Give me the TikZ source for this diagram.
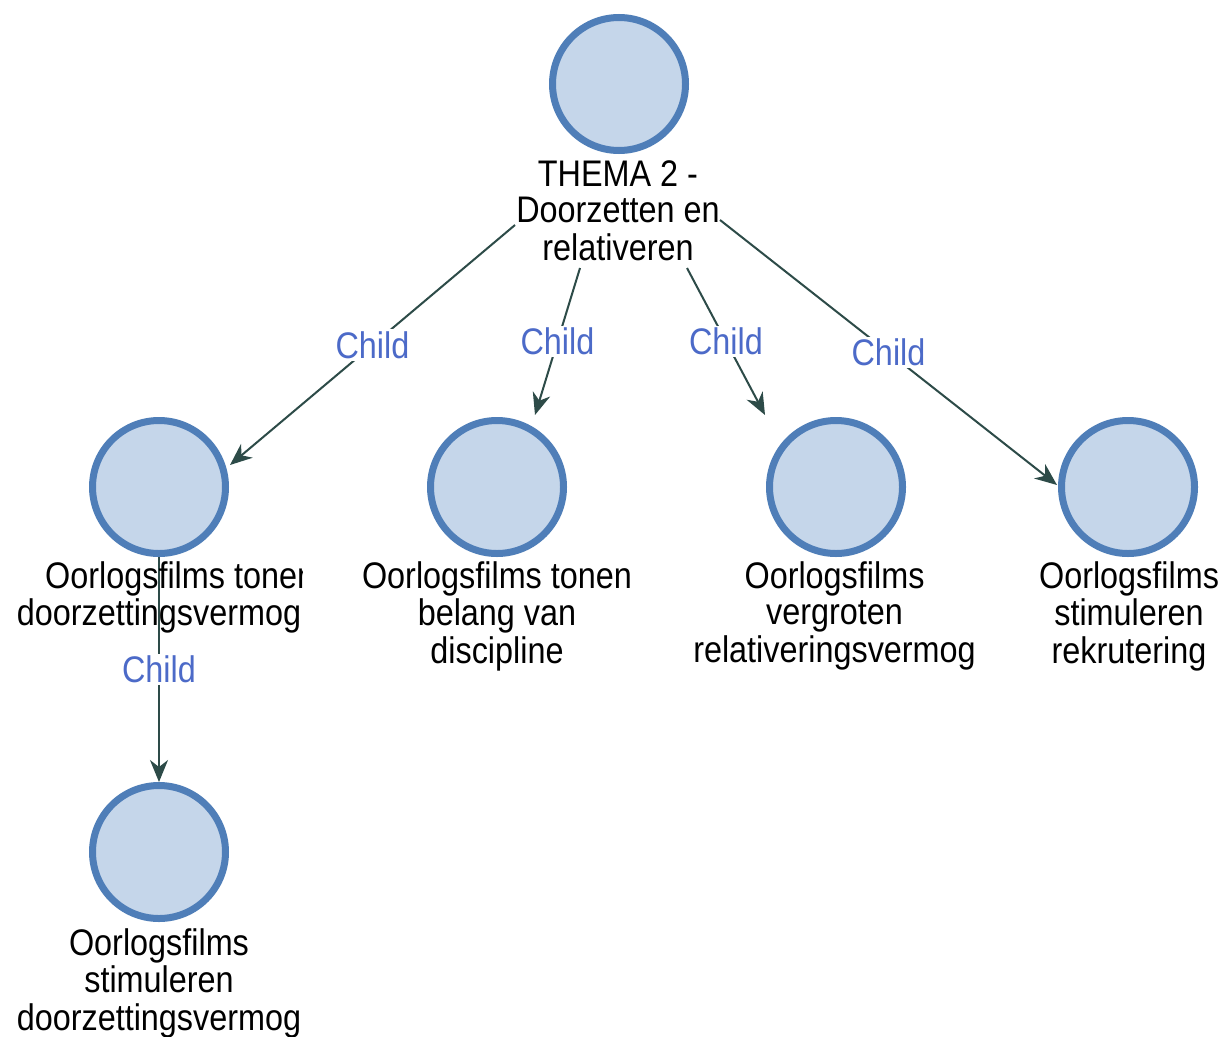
\documentclass[tikz,border=0pt]{standalone}
\usepackage{fontspec}
\newfontfamily\labfont[FakeStretch=0.875]{Liberation Sans}
\usetikzlibrary{arrows.meta}
\definecolor{nodefill}{RGB}{197,214,234}
\definecolor{nodeline}{RGB}{79,126,184}
\definecolor{edgecol}{RGB}{45,75,72}
\definecolor{childcol}{RGB}{76,106,200}
\newcommand{\mylines}[1]{\begin{tabular}[t]{@{}c@{}}#1\end{tabular}}
\begin{document}
\begin{tikzpicture}[x=1pt,y=-1pt,
  circ/.style={circle,draw=nodeline,fill=nodefill,line width=7pt,minimum size=133pt,inner sep=0pt},
  lab/.style={font=\labfont\fontsize{37}{36.5}\selectfont,text=black,inner sep=0pt,anchor=base},
  edge/.style={draw=edgecol,line width=2pt,-{Stealth[length=22pt,width=18pt,inset=7pt]}},
  lbl/.style={font=\labfont\fontsize{37}{36}\selectfont,text=childcol,fill=white,inner sep=2pt}]
\useasboundingbox[fill=white] (0,0) rectangle (1225,1036);

% circles
\begin{scope}
  \clip (0,13) rectangle (1225,1036);
  \node[circ] (top) at (619,84) {};
\end{scope}
\node[circ] (n1) at (159,487) {};
\node[circ] (n2) at (497,487) {};
\node[circ] (n3) at (836,487) {};
\node[circ] (n4) at (1128,487) {};
\node[circ] (n5) at (159,852) {};

% connector end points
\coordinate (e1s) at (515,225);  \coordinate (e1t) at (230,465);
\coordinate (e2s) at (580,268);  \coordinate (e2t) at (535,415);
\coordinate (e3s) at (687,268);  \coordinate (e3t) at (765,415);
\coordinate (e4s) at (720,220);  \coordinate (e4t) at (1057,485);
\coordinate (e5s) at (159,557);  \coordinate (e5t) at (159,782);

\draw[edge] (e1s) -- node[lbl] {Child} (e1t);
\draw[edge] (e2s) -- node[lbl] {Child} (e2t);
\draw[edge] (e3s) -- node[lbl] {Child} (e3t);
\draw[edge] (e4s) -- node[lbl] {Child} (e4t);
\draw[edge] (e5s) -- node[lbl] {Child} (e5t);

% labels
\node[lab] (toplab) at (618,186) {\mylines{THEMA 2 -\\Doorzetten en\\relativeren}};
\begin{scope}
  \clip (0,540) rectangle (302,600);
  \node[lab,anchor=base west] (n1lab) at (45,588) {Oorlogsfilms tonen};
\end{scope}
\node[lab] (n1labb) at (159,625) {doorzettingsvermog};
\node[lab] (n2lab) at (497,588) {\mylines{Oorlogsfilms tonen\\belang van\\discipline}};
\node[lab] (n3lab) at (834.5,588) {\mylines{Oorlogsfilms\\vergroten\\relativeringsvermog}};
\node[lab] (n4lab) at (1129,588) {\mylines{Oorlogsfilms\\stimuleren\\rekrutering}};
\node[lab] (n5lab) at (159,955) {\mylines{Oorlogsfilms\\stimuleren\\doorzettingsvermog}};
\end{tikzpicture}
\end{document}
